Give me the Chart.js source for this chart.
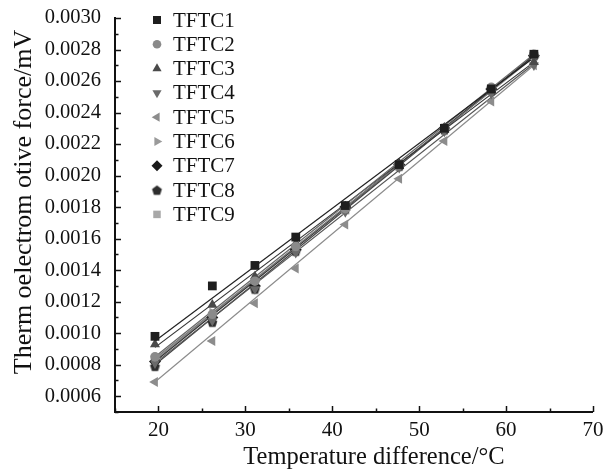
<!DOCTYPE html>
<html>
<head>
<meta charset="utf-8">
<script src="https://cdn.jsdelivr.net/npm/chart.js@4.4.1/dist/chart.umd.min.js"></script>
<style>
html,body{margin:0;padding:0;background:#fff;}
#wrap{width:610px;height:475px;}
</style>
</head>
<body>
<div id="wrap"><canvas id="c" width="610" height="475"></canvas></div>
<script>
// ---- data ----
const seriesNames = ['TFTC1','TFTC2','TFTC3','TFTC4','TFTC5','TFTC6','TFTC7','TFTC8','TFTC9'];
const tempDiff = [19.6, 26.2, 31.1, 35.8, 41.5, 47.7, 52.9, 58.3, 63.2];
const tftc1 = [0.00098, 0.00130, 0.00143, 0.00161, 0.00181, 0.00207, 0.00230, 0.00255, 0.00277];
const tftc2 = [0.00085, 0.00112, 0.00133, 0.00155, 0.00179, 0.00207, 0.00230, 0.00256, 0.00277];
const tftc3 = [0.00093, 0.00118, 0.00136, 0.00157, 0.00180, 0.00206, 0.00229, 0.00254, 0.00272];
const tftc4 = [0.00081, 0.00108, 0.00128, 0.00151, 0.00177, 0.00205, 0.00228, 0.00252, 0.00270];
const tftc5 = [0.00069, 0.00095, 0.00119, 0.00141, 0.00169, 0.00198, 0.00222, 0.00247, 0.00270];
const tftc6 = [0.00084, 0.00113, 0.00134, 0.00154, 0.00178, 0.00206, 0.00230, 0.00254, 0.00275];
const tftc7 = [0.00082, 0.00110, 0.00130, 0.00153, 0.00180, 0.00207, 0.00230, 0.00255, 0.00276];
const tftc8 = [0.00079, 0.00107, 0.00128, 0.00152, 0.00179, 0.00206, 0.00229, 0.00254, 0.00276];
const tftc9 = [0.00083, 0.00111, 0.00131, 0.00154, 0.00178, 0.00206, 0.00230, 0.00255, 0.00276];
// linear-fit line end values (at first and last temperature)
const fitStart = [0.00095, 0.00085, 0.00091, 0.00081, 0.00069, 0.00084, 0.00082, 0.00080, 0.00083];
const fitEnd   = [0.00275, 0.00277, 0.00272, 0.00271, 0.00270, 0.00275, 0.00276, 0.00276, 0.00276];
const xTicks = [20, 30, 40, 50, 60, 70];
const yTicks = [0.0006, 0.0008, 0.0010, 0.0012, 0.0014, 0.0016, 0.0018, 0.0020, 0.0022, 0.0024, 0.0026, 0.0028, 0.0030];
const xTitle = 'Temperature difference/°C';
const yTitle = 'Therm oelectrom otive force/mV';

// ---- styles ----
function pentagon(color, r) {
  const cv = document.createElement('canvas');
  const s = Math.ceil(r * 2 + 2);
  cv.width = s; cv.height = s;
  const g = cv.getContext('2d');
  g.fillStyle = color;
  g.beginPath();
  for (let i = 0; i < 5; i++) {
    const a = -Math.PI / 2 + i * 2 * Math.PI / 5;
    const px = s / 2 + r * Math.cos(a), py = s / 2 + r * Math.sin(a) + 0.5;
    if (i === 0) g.moveTo(px, py); else g.lineTo(px, py);
  }
  g.closePath(); g.fill();
  return cv;
}
const styles = [
  {color:'#1e1e1e', line:'#222', pointStyle:'rect', rotation:0, radius:6.2},
  {color:'#8a8a8a', line:'#666', pointStyle:'circle', rotation:0, radius:4.8},
  {color:'#4a4a4a', line:'#333', pointStyle:'triangle', rotation:0, radius:5.8},
  {color:'#6a6a6a', line:'#555', pointStyle:'triangle', rotation:180, radius:5.8},
  {color:'#8c8c8c', line:'#8c8c8c', pointStyle:'triangle', rotation:-90, radius:5.8},
  {color:'#9a9a9a', line:'#777', pointStyle:'triangle', rotation:90, radius:5.8},
  {color:'#1a1a1a', line:'#333', pointStyle:'rectRot', rotation:0, radius:6},
  {color:'#2e2e2e', line:'#444', pointStyle:pentagon('#2e2e2e', 5.2), rotation:0, radius:5.2},
  {color:'#a8a8a8', line:'#888', pointStyle:'rect', rotation:0, radius:5.8}
];
const values = [tftc1, tftc2, tftc3, tftc4, tftc5, tftc6, tftc7, tftc8, tftc9];

const datasets = [];
values.forEach((v, i) => {
  datasets.push({
    label: seriesNames[i] + ' fit',
    data: [{x: tempDiff[0], y: fitStart[i]}, {x: tempDiff[tempDiff.length - 1], y: fitEnd[i]}],
    showLine: true, borderColor: styles[i].line, borderWidth: 1.2,
    pointRadius: 0, pointHoverRadius: 0, order: 2
  });
});
values.forEach((v, i) => {
  datasets.push({
    label: seriesNames[i],
    data: tempDiff.map((x, k) => ({x: x, y: v[k]})),
    showLine: false,
    pointStyle: styles[i].pointStyle,
    rotation: styles[i].rotation,
    pointRadius: styles[i].radius,
    backgroundColor: styles[i].color,
    borderColor: styles[i].color,
    borderWidth: 0,
    order: 1
  });
});

const FONT = "'Liberation Serif', 'DejaVu Serif', serif";

const axisTicks = {
  id: 'axisTicks',
  afterDraw(chart) {
    const ctx = chart.ctx;
    const xs = chart.scales.x, ys = chart.scales.y;
    const ca = chart.chartArea;
    ctx.save();
    ctx.strokeStyle = '#111';
    ctx.lineWidth = 1.5;
    for (let k = 5; k <= 30; k++) {
      const v = k / 10000;
      const py = Math.round(ys.getPixelForValue(v)) + 0.5;
      const len = (k % 2 === 0) ? 6 : 3.5;
      ctx.beginPath(); ctx.moveTo(ca.left, py); ctx.lineTo(ca.left + len, py); ctx.stroke();
    }
    for (let v = 15; v <= 70; v += 5) {
      const px = Math.round(xs.getPixelForValue(v)) + 0.5;
      const len = (v % 10 === 0) ? 6 : 3.5;
      ctx.beginPath(); ctx.moveTo(px, ca.bottom); ctx.lineTo(px, ca.bottom - len); ctx.stroke();
    }
    ctx.lineWidth = 2;
    ctx.beginPath();
    ctx.moveTo(ca.left, ca.top - 1);
    ctx.lineTo(ca.left, ca.bottom);
    ctx.lineTo(ca.right, ca.bottom);
    ctx.stroke();
    // axis titles
    ctx.fillStyle = '#111';
    ctx.textAlign = 'center';
    ctx.textBaseline = 'middle';
    ctx.font = '24.5px ' + FONT;
    ctx.fillText(xTitle, 374, 458);
    ctx.save();
    ctx.translate(24, 202);
    ctx.rotate(-Math.PI / 2);
    ctx.font = '26px ' + FONT;
    ctx.fillText(yTitle, 0, 0);
    ctx.restore();
    ctx.restore();
  }
};

const legendPlugin = {
  id: 'customLegend',
  afterDraw(chart) {
    const ctx = chart.ctx;
    ctx.save();
    ctx.font = '21px ' + FONT;
    ctx.textBaseline = 'middle';
    ctx.textAlign = 'left';
    seriesNames.forEach((name, i) => {
      const y = 20 + i * 24.3;
      const st = styles[i];
      ctx.fillStyle = st.color;
      ctx.strokeStyle = st.color;
      Chart.helpers.drawPoint(ctx, {pointStyle: st.pointStyle, rotation: st.rotation, radius: st.radius - 0.5, borderWidth: 0}, 157, y);
      ctx.fillStyle = '#111';
      ctx.fillText(name, 173, y + 1);
    });
    ctx.restore();
  }
};

new Chart(document.getElementById('c'), {
  type: 'scatter',
  data: {datasets: datasets},
  plugins: [axisTicks, legendPlugin],
  options: {
    responsive: false,
    animation: false,
    events: [],
    layout: {padding: {top: 18, right: 17, left: 0, bottom: 0}},
    plugins: {legend: {display: false}, tooltip: {enabled: false}},
    scales: {
      x: {
        type: 'linear', min: 15, max: 70,
        afterBuildTicks: s => { s.ticks = xTicks.map(v => ({value: v})); },
        afterFit: s => { s.height = 63; s.paddingLeft = 0; s.paddingRight = 0; },
        grid: {display: false, drawTicks: false},
        border: {display: false},
        ticks: {color: '#111', font: {family: FONT, size: 21}, padding: 6, maxRotation: 0,
                callback: v => String(v)},
        title: {display: false}
      },
      y: {
        type: 'linear', min: 0.0005, max: 0.0030,
        afterBuildTicks: s => { s.ticks = yTicks.map(v => ({value: v})); },
        afterFit: s => { s.width = 115; s.paddingTop = 0; s.paddingBottom = 0; },
        grid: {display: false, drawTicks: false},
        border: {display: false},
        ticks: {color: '#111', font: {family: FONT, size: 20.5}, padding: 14,
                callback: v => Number(v).toFixed(4)},
        title: {display: false}
      }
    }
  }
});
</script>
</body>
</html>
